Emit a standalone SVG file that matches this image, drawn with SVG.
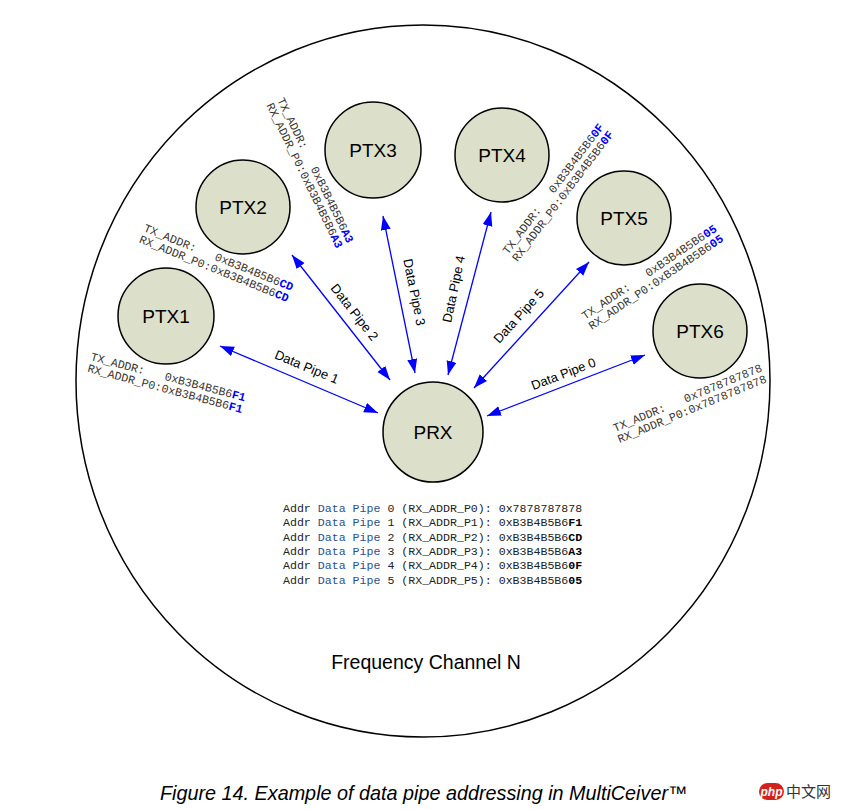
<svg xmlns="http://www.w3.org/2000/svg" width="846" height="810" viewBox="0 0 846 810">
<defs>
<marker id="ah" markerUnits="userSpaceOnUse" markerWidth="15" markerHeight="11" refX="14" refY="5" orient="auto-start-reverse">
<path d="M0,0 L14,5 L0,10 z" fill="#0000ff"/>
</marker>
<style>
.node circle{fill:#dcdfca;stroke:#000;stroke-width:1.5}
.nt{font-family:"Liberation Sans",Arial,sans-serif;font-size:19px;fill:#000;text-anchor:middle}
.conn line{stroke:#0000ff;stroke-width:1.3;marker-start:url(#ah);marker-end:url(#ah)}
.pl{font-family:"Liberation Sans",Arial,sans-serif;font-size:13px;fill:#000;text-anchor:middle}
.ad{font-family:"Liberation Mono","Courier New",monospace;font-size:11.6px;fill:#3a3530}
.b{fill:#0000ff;font-weight:bold}
.tb{font-family:"Liberation Mono","Courier New",monospace;font-size:11.6px;fill:#222}
.dp{fill:#2a4f8f}
.k{font-weight:bold;fill:#000}
</style>
</defs>
<rect width="846" height="810" fill="#fff"/>
<ellipse cx="423" cy="381" rx="347" ry="356" fill="none" stroke="#000" stroke-width="1.5"/>

<g id="connectors" class="conn">
<line x1="220" y1="346" x2="378" y2="413"/>
<line x1="292" y1="255" x2="390" y2="380"/>
<line x1="383" y1="216" x2="415" y2="373"/>
<line x1="491" y1="212" x2="448" y2="375"/>
<line x1="589" y1="262" x2="474" y2="388"/>
<line x1="645" y1="355" x2="487" y2="416"/>
</g>
<g id="pipe-labels" class="pl">
<text transform="translate(305,371) rotate(22.6)">Data Pipe 1</text>
<text transform="translate(351,315) rotate(51.7)">Data Pipe 2</text>
<text transform="translate(410,293) rotate(78.5)">Data Pipe 3</text>
<text transform="translate(458,290) rotate(-78)">Data Pipe 4</text>
<text transform="translate(522,319) rotate(-47.7)">Data Pipe 5</text>
<text transform="translate(565,378) rotate(-21)">Data Pipe 0</text>
</g>

<g id="PTX1" class="node"><circle cx="166" cy="316" r="48"/><text class="nt" x="166" y="323">PTX1</text></g>
<g id="PTX2" class="node"><circle cx="243" cy="207" r="47"/><text class="nt" x="243" y="214">PTX2</text></g>
<g id="PTX3" class="node"><circle cx="373" cy="150" r="48"/><text class="nt" x="373" y="157">PTX3</text></g>
<g id="PTX4" class="node"><circle cx="502" cy="155" r="47"/><text class="nt" x="502" y="162">PTX4</text></g>
<g id="PTX5" class="node"><circle cx="624" cy="218" r="47"/><text class="nt" x="624" y="225">PTX5</text></g>
<g id="PTX6" class="node"><circle cx="700" cy="331" r="47"/><text class="nt" x="700" y="338">PTX6</text></g>
<g id="PRX" class="node"><circle cx="433" cy="432" r="50"/><text class="nt" x="433" y="439">PRX</text></g>

<g id="addr-labels" class="ad">
<text transform="translate(90,360) rotate(15)"><tspan x="0" y="0">TX_ADDR:&#160;&#160;&#160;0xB3B4B5B6<tspan class="b">F1</tspan></tspan><tspan x="0" y="12">RX_ADDR_P0:0xB3B4B5B6<tspan class="b">F1</tspan></tspan></text>
<text transform="translate(143,231) rotate(22)"><tspan x="0" y="0">TX_ADDR:&#160;&#160;&#160;0xB3B4B5B6<tspan class="b">CD</tspan></tspan><tspan x="0" y="12">RX_ADDR_P0:0xB3B4B5B6<tspan class="b">CD</tspan></tspan></text>
<text transform="translate(277,100) rotate(64)"><tspan x="0" y="0">TX_ADDR:&#160;&#160;&#160;0xB3B4B5B6<tspan class="b">A3</tspan></tspan><tspan x="0" y="12">RX_ADDR_P0:0xB3B4B5B6<tspan class="b">A3</tspan></tspan></text>
<text transform="translate(508,255) rotate(-53)"><tspan x="0" y="0">TX_ADDR:&#160;&#160;&#160;0xB3B4B5B6<tspan class="b">0F</tspan></tspan><tspan x="0" y="12">RX_ADDR_P0:0xB3B4B5B6<tspan class="b">0F</tspan></tspan></text>
<text transform="translate(585,320) rotate(-34)"><tspan x="0" y="0">TX_ADDR:&#160;&#160;&#160;0xB3B4B5B6<tspan class="b">05</tspan></tspan><tspan x="0" y="12">RX_ADDR_P0:0xB3B4B5B6<tspan class="b">05</tspan></tspan></text>
<text transform="translate(615,432) rotate(-22.5)"><tspan x="0" y="0">TX_ADDR:&#160;&#160;&#160;0x7878787878</tspan><tspan x="0" y="12">RX_ADDR_P0:0x7878787878</tspan></text>
</g>

<g id="table" class="tb">
<text x="283" y="512">Addr <tspan class="dp">Data Pipe</tspan> 0 (RX_ADDR_P0): 0x7878787878</text>
<text x="283" y="526.3">Addr <tspan class="dp">Data Pipe</tspan> 1 (RX_ADDR_P1): 0xB3B4B5B6<tspan class="k">F1</tspan></text>
<text x="283" y="540.6">Addr <tspan class="dp">Data Pipe</tspan> 2 (RX_ADDR_P2): 0xB3B4B5B6<tspan class="k">CD</tspan></text>
<text x="283" y="554.9">Addr <tspan class="dp">Data Pipe</tspan> 3 (RX_ADDR_P3): 0xB3B4B5B6<tspan class="k">A3</tspan></text>
<text x="283" y="569.2">Addr <tspan class="dp">Data Pipe</tspan> 4 (RX_ADDR_P4): 0xB3B4B5B6<tspan class="k">0F</tspan></text>
<text x="283" y="583.5">Addr <tspan class="dp">Data Pipe</tspan> 5 (RX_ADDR_P5): 0xB3B4B5B6<tspan class="k">05</tspan></text>
</g>

<text x="426" y="669" font-family="Liberation Sans, Arial, sans-serif" font-size="19.5" text-anchor="middle" fill="#000">Frequency Channel N</text>
<text x="160" y="800" font-family="Liberation Sans, Arial, sans-serif" font-size="19.8" font-style="italic" fill="#000">Figure 14. Example of data pipe addressing in MultiCeiver™</text>

<g id="watermark">
<rect x="759" y="783" width="25" height="17" rx="8.5" fill="#d6201a"/>
<text x="771.5" y="796" font-family="Liberation Sans, Arial, sans-serif" font-size="12" font-style="italic" font-weight="bold" fill="#fff" text-anchor="middle">php</text>
<text x="786" y="797" font-family="Noto Sans CJK SC, sans-serif" font-size="15" fill="#333">中文网</text>
</g>
</svg>
